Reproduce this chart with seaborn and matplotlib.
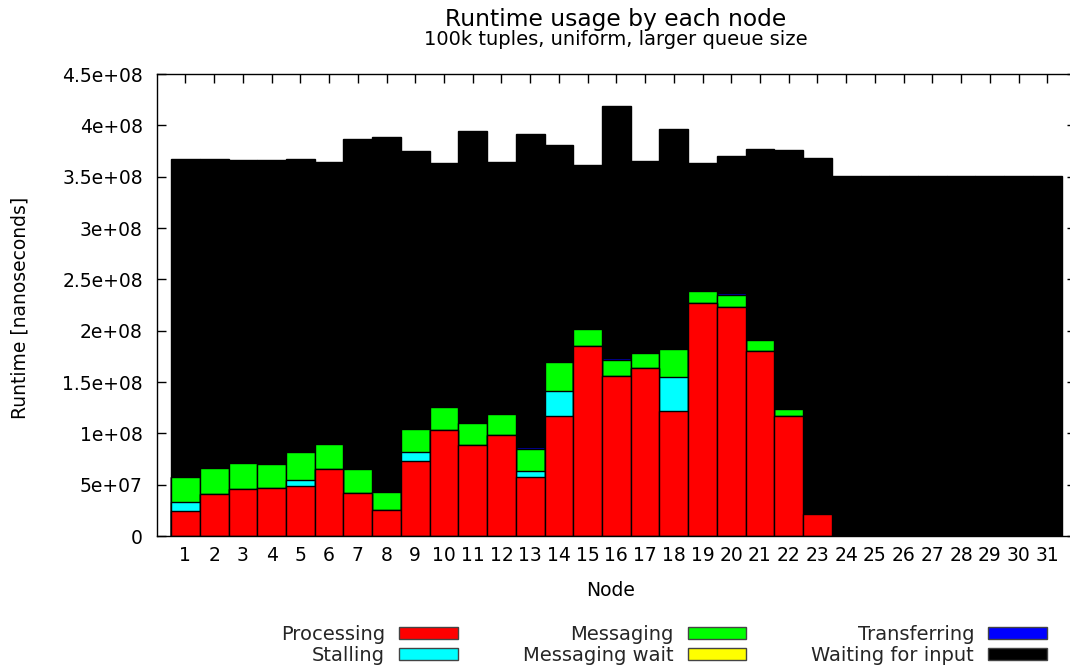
import matplotlib
matplotlib.use("Agg")
import numpy as np
import pandas as pd
import seaborn as sns
import matplotlib.pyplot as plt
from matplotlib.patches import Patch

# ---- data (values in units of 1e6 nanoseconds) ----
nodes = list(range(1, 32))
processing = [24.5, 41.3, 45.5, 46.5, 49.0, 65.6, 42.2, 25.7, 72.8, 103.6,
              89.0, 98.7, 57.8, 117.2, 185.4, 156.2, 164.0, 121.5, 227.3, 223.4,
              180.2, 117.2, 21.4, 0, 0, 0, 0, 0, 0, 0, 0]
stalling = [8.3, 0, 0, 0, 5.9, 0, 0, 0, 9.4, 0,
            0, 0, 5.2, 23.8, 0, 0, 0, 33.7, 0, 0,
            0, 0, 0, 0, 0, 0, 0, 0, 0, 0, 0]
messaging = [24.4, 24.6, 25.3, 23.3, 26.6, 23.7, 23.4, 17.2, 21.7, 22.1,
             21.4, 19.8, 22.1, 28.5, 16.6, 15.6, 14.3, 27.3, 11.7, 11.7,
             10.4, 6.2, 0, 0, 0, 0, 0, 0, 0, 0, 0]
messaging_wait = [0] * 31
transferring = [0.4, 0.4, 0.4, 0.4, 0.4, 0.4, 0.4, 0.4, 0.4, 0.8,
                1.0, 1.0, 1.5, 1.2, 1.0, 1.2, 1.2, 0.4, 1.0, 1.2,
                0.5, 0.3, 0, 0, 0, 0, 0, 0, 0, 0, 0]
waiting = [310.0, 300.9, 295.4, 295.8, 285.7, 274.9, 320.4, 345.0, 271.1, 237.2,
           282.6, 244.8, 304.7, 209.8, 158.4, 246.0, 185.7, 213.9, 123.7, 133.8,
           186.2, 252.0, 347.2, 350.8, 350.6, 350.5, 350.4, 350.3, 350.7, 350.3, 350.4]

series_names = ["Processing", "Stalling", "Messaging", "Messaging wait",
                "Transferring", "Waiting for input"]
series_colors = ["#ff0000", "#00ffff", "#00ff00", "#ffff00", "#0000ff", "#000000"]

yticks = [0, 5e7, 1e8, 1.5e8, 2e8, 2.5e8, 3e8, 3.5e8, 4e8, 4.5e8]
ytick_labels = ["0", "5e+07", "1e+08", "1.5e+08", "2e+08", "2.5e+08",
                "3e+08", "3.5e+08", "4e+08", "4.5e+08"]

title = "Runtime usage by each node"
subtitle = "100k tuples, uniform, larger queue size"

# ---- plotting ----
sns.set_theme(style="white")
plt.rcParams["font.family"] = ["DejaVu Sans"]
FS = 13.5
LFS = 14

fig = plt.figure(figsize=(10.7, 6.7), dpi=100)
W, H = 1070.0, 670.0
ax = fig.add_axes([156.7 / W, 1 - 536 / H, 919.3 / W, 462 / H])

series = [processing, stalling, messaging, messaging_wait, transferring, waiting]
df = pd.DataFrame({"Node": nodes})
for name, vals in zip(series_names, series):
    df[name] = np.array(vals, dtype=float) * 1e6
cum = df[series_names].cumsum(axis=1)

for name, color in reversed(list(zip(series_names, series_colors))):
    sns.barplot(x=df["Node"], y=cum[name], native_scale=True, orient="x",
                width=1.0, color=color, saturation=1, edgecolor="black",
                linewidth=1.0, errorbar=None, ax=ax)

ax.set_xlim(0, 32)
ax.set_ylim(0, 4.5e8)
ax.set_xticks(nodes)
ax.set_xticklabels([str(n) for n in nodes])
ax.set_yticks(yticks)
ax.set_yticklabels(ytick_labels)
ax.tick_params(axis="both", direction="in", length=6.5, width=1.0,
               colors="black", labelsize=FS, top=True, right=True,
               bottom=True, left=True)
ax.tick_params(axis="x", pad=7)
ax.tick_params(axis="y", pad=10)
for sp in ax.spines.values():
    sp.set_color("black")
    sp.set_linewidth(1.0)
ax.set_facecolor("white")

ax.set_xlabel("Node", fontsize=FS, color="black")
ax.xaxis.label.set_va("center")
ax.xaxis.set_label_coords((611 - 156.7) / 919.3, (536 - 591) / 462)
ax.set_ylabel("Runtime [nanoseconds]", fontsize=FS, color="black")
ax.yaxis.label.set_va("center")
ax.yaxis.set_label_coords((20 - 156.7) / 919.3, (536 - 308) / 462)

fig.text(616 / W, 1 - 26.0 / H, title, ha="center", va="baseline",
         fontsize=16.8, color="black")
fig.text(616 / W, 1 - 45.0 / H, subtitle, ha="center", va="baseline",
         fontsize=14, color="black")

handles = [Patch(facecolor=c, edgecolor="#444444", linewidth=1.0, label=n)
           for n, c in zip(series_names, series_colors)]
fig.legend(handles=handles, ncol=3, loc="center",
           bbox_to_anchor=(664 / W, 1 - 645 / H), frameon=False,
           markerfirst=False, handlelength=3.03, handleheight=0.57,
           handletextpad=0.72, columnspacing=3.34, labelspacing=0.12,
           fontsize=LFS, borderpad=0, borderaxespad=0)

fig.savefig("out.png", dpi=100)
